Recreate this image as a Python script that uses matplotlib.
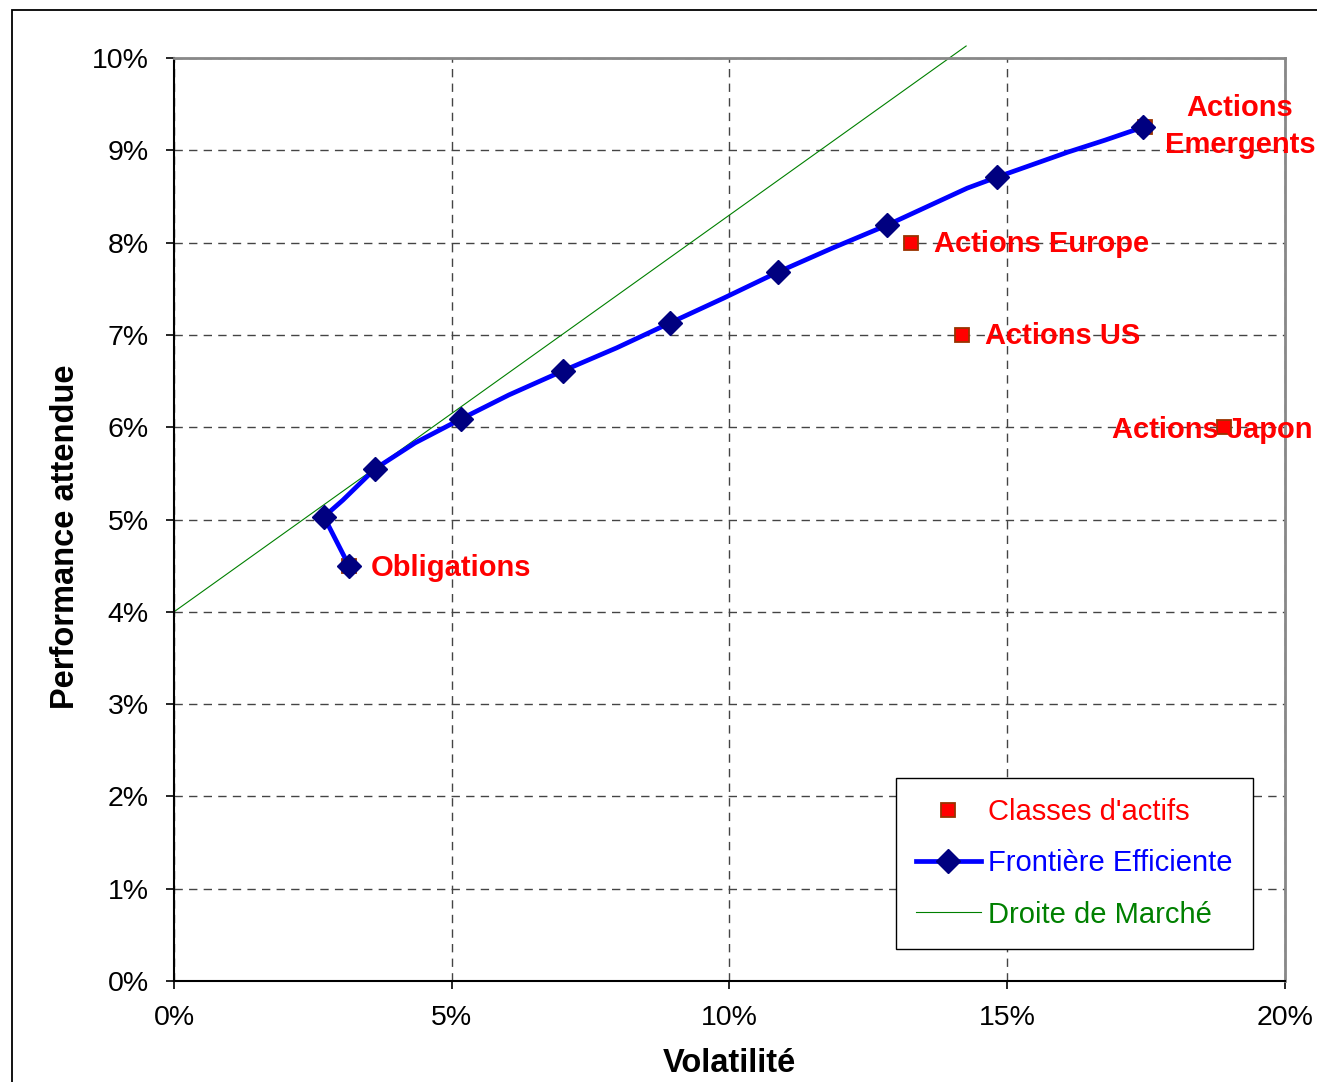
import matplotlib.pyplot as plt
from matplotlib.patches import Rectangle
from matplotlib.ticker import FuncFormatter

plt.rcParams['font.family'] = ['Liberation Sans', 'DejaVu Sans']

# efficient frontier (volatility %, expected return %), markers on a subset
front_vol = [3.15, 2.70, 3.04, 3.62, 4.34, 5.17, 6.03, 7.00, 7.97, 8.93, 9.90,
             10.87, 11.85, 12.84, 14.28, 14.82, 16.09, 16.76, 17.44]
front_ret = [4.50, 5.03, 5.21, 5.55, 5.83, 6.09, 6.35, 6.61, 6.86, 7.13, 7.40,
             7.68, 7.94, 8.19, 8.59, 8.71, 8.98, 9.11, 9.25]
front_marked = [0, 1, 3, 5, 7, 9, 11, 13, 15, 18]

# asset classes
assets = ['Obligations', 'Actions Europe', 'Actions US', 'Actions Japon', 'Actions\nEmergents']
asset_vol = [3.15, 13.27, 14.19, 18.90, 17.48]
asset_ret = [4.50, 8.00, 7.00, 6.00, 9.25]

# capital market line
market_vol = [0.0, 14.26]
market_ret = [4.0, 10.13]

fig = plt.figure(figsize=(13.17, 10.82), dpi=100)
ax = fig.add_axes([0.1321, 0.0933, 0.8436, 0.8531])

ax.plot(asset_vol, asset_ret, linestyle='none', marker='s', markersize=9.5,
        markerfacecolor='#FF0000', markeredgecolor='#993300', markeredgewidth=1.3,
        label="Classes d'actifs", zorder=3)
ax.plot(front_vol, front_ret, color='#0000FF', linewidth=3.4, marker='D',
        markersize=12.5, markevery=front_marked, markerfacecolor='#000080',
        markeredgecolor='#000080', label='Frontière Efficiente', zorder=4)
ax.plot(market_vol, market_ret, color='#008000', linewidth=0.8,
        label='Droite de Marché', clip_on=False, zorder=2)

# labels next to the asset classes
lab_style = dict(color='#FF0000', fontsize=21, fontweight='bold', va='center', zorder=5)
ax.text(3.55, 4.48, assets[0], ha='left', **lab_style)
ax.text(13.68, 7.98, assets[1], ha='left', **lab_style)
ax.text(14.60, 6.99, assets[2], ha='left', **lab_style)
ax.text(18.69, 5.97, assets[3], ha='center', **lab_style)
ax.text(19.19, 9.26, assets[4], ha='center', linespacing=1.4, **lab_style)

ax.set_xlim(0, 20)
ax.set_ylim(0, 10)
ax.set_xticks(range(0, 21, 5))
ax.set_yticks(range(0, 11))
ax.xaxis.set_major_formatter(FuncFormatter(lambda v, p: '%d%%' % v))
ax.yaxis.set_major_formatter(FuncFormatter(lambda v, p: '%d%%' % v))
ax.tick_params(axis='both', labelsize=20.5, direction='out', length=6, width=1.2)
ax.tick_params(axis='x', pad=11)
ax.tick_params(axis='y', pad=12)

ax.grid(True, color='#444444', linestyle=(0, (6, 4.5)), linewidth=1.0)
ax.set_axisbelow(True)

for side in ['left', 'bottom']:
    ax.spines[side].set_color('black')
    ax.spines[side].set_linewidth(1.5)
for side in ['top', 'right']:
    ax.spines[side].set_color('#888888')
    ax.spines[side].set_linewidth(2)

ax.set_xlabel('Volatilité', fontsize=23.5, fontweight='bold')
ax.xaxis.set_label_coords(0.5, -0.072)
ax.set_ylabel('Performance attendue', fontsize=23.5, fontweight='bold')
ax.yaxis.set_label_coords(-0.084, 0.481)

leg = ax.legend(loc='lower right', bbox_to_anchor=(0.971, 0.0347), fontsize=21,
                frameon=True, fancybox=False, edgecolor='black', framealpha=1,
                handlelength=2.2, handletextpad=0.25, labelspacing=0.8,
                borderpad=0.7, borderaxespad=0)
leg.get_frame().set_linewidth(1.0)
for txt, col in zip(leg.get_texts(), ['#FF0000', '#0000FF', '#008000']):
    txt.set_color(col)

# outer frame of the chart area
fig.patches.append(Rectangle((0.0091, -0.01), 1.2, 1.0008, transform=fig.transFigure,
                             fill=False, edgecolor='black', linewidth=1.3))

fig.savefig('out.png', dpi=100)
